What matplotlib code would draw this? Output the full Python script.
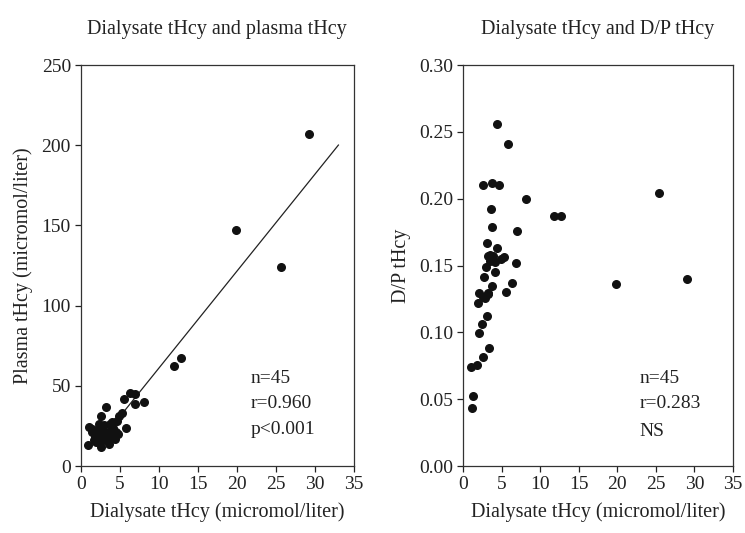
import numpy as np
import matplotlib
matplotlib.use("Agg")
import matplotlib.pyplot as plt

plt.rcParams['font.family'] = ['Liberation Serif', 'DejaVu Serif']

# Left panel: dialysate tHcy vs plasma tHcy
dial_left = [29.2, 19.9, 25.6, 12.8, 11.9, 6.3, 6.95, 5.6, 8.1, 7.0,
             3.3, 5.3, 4.9, 2.6, 4.05, 3.7, 3.0, 1.1, 1.4, 5.8,
             2.05, 2.7, 4.5, 3.3, 4.0, 2.5, 3.1, 4.4, 2.0, 1.0,
             2.55, 3.5, 2.9, 1.8, 3.8, 4.2, 2.2, 3.6, 1.5, 4.6,
             2.8, 3.9, 2.3, 1.7, 4.8]
plasma = [207, 147, 124, 67.3, 62.5, 45.5, 45, 42, 40, 38.7,
          36.6, 33.2, 31.2, 31.2, 27.6, 26.2, 25.6, 24.5, 23, 23.5,
          22.4, 21.8, 21.4, 20.4, 19.3, 18.7, 17.9, 16.6, 15.2, 12.9,
          11.7, 17, 20, 18, 22, 24, 19, 14, 21, 28,
          16, 18.5, 26, 16, 20]

# regression line
fit_x = [4.5, 33.0]
fit_slope = 6.05
fit_intercept = 0.45

# Right panel: dialysate tHcy vs D/P ratio
dial_right = [4.45, 5.87, 2.63, 3.8, 4.67, 8.13, 3.63, 11.84, 12.7, 3.72,
              6.96, 3.07, 4.37, 3.28, 3.93, 5.32, 3.5, 4.93, 6.91, 2.94,
              2.72, 4.15, 3.8, 6.3, 2.11, 3.2, 5.6, 2.63, 3.28, 1.9,
              3.07, 2.42, 2.07, 3.33, 2.63, 1.04, 1.85, 1.26, 1.17, 19.8,
              25.4, 29.0, 3.5, 4.1, 2.8]
dp_ratio = [0.256, 0.241, 0.210, 0.2115, 0.210, 0.200, 0.192, 0.187, 0.187, 0.179,
            0.176, 0.167, 0.163, 0.157, 0.157, 0.1566, 0.1536, 0.1546, 0.152, 0.1486,
            0.1417, 0.1454, 0.1347, 0.1372, 0.1297, 0.1297, 0.1304, 0.1267, 0.129, 0.1222,
            0.1124, 0.1065, 0.0998, 0.0885, 0.0815, 0.0743, 0.0753, 0.0526, 0.0436, 0.136,
            0.204, 0.140, 0.158, 0.1525, 0.126]

x_ticks = [0, 5, 10, 15, 20, 25, 30, 35]
left_yticks = [0, 50, 100, 150, 200, 250]
right_yticks = [0.00, 0.05, 0.10, 0.15, 0.20, 0.25, 0.30]

fig = plt.figure(figsize=(7.45, 5.33), dpi=100)
ax1 = fig.add_axes([0.1083, 0.1257, 0.3669, 0.7523])
ax2 = fig.add_axes([0.6215, 0.1257, 0.3624, 0.7523])

fs = 14
lfs = 14.5

def style(ax):
    for s in ax.spines.values():
        s.set_linewidth(0.9)
        s.set_color('#333333')
    ax.tick_params(direction='out', length=4, width=0.9, labelsize=fs, pad=3, colors='#222222')
    ax.set_xlim(0, 35)
    ax.set_xticks(x_ticks)
    ax.set_xlabel('Dialysate tHcy (micromol/liter)', fontsize=lfs, labelpad=7, color='#222222')

# left
ax1.scatter(dial_left, plasma, s=30, color='#111111', zorder=3, clip_on=False)
fx = np.array(fit_x)
ax1.plot(fx, fit_intercept + fit_slope * fx, color='#222222', linewidth=0.9)
ax1.set_ylim(0, 250)
ax1.set_yticks(left_yticks)
style(ax1)
ax1.set_ylabel('Plasma tHcy (micromol/liter)', fontsize=lfs, labelpad=6, color='#222222')
ax1.set_title('Dialysate tHcy and plasma tHcy', fontsize=lfs, pad=22, color='#222222')
for txt, yy in zip(['n=45', 'r=0.960', 'p<0.001'], [0.219, 0.155, 0.092]):
    ax1.text(0.62, yy, txt, transform=ax1.transAxes, fontsize=fs, va='center', color='#222222')

# right
ax2.scatter(dial_right, dp_ratio, s=30, color='#111111', zorder=3, clip_on=False)
ax2.set_ylim(0, 0.30)
ax2.set_yticks(right_yticks)
ax2.set_yticklabels([f'{v:.2f}' for v in right_yticks])
style(ax2)
ax2.set_ylabel('D/P tHcy', fontsize=lfs, labelpad=6, color='#222222')
ax2.set_title('Dialysate tHcy and D/P tHcy', fontsize=lfs, pad=22, color='#222222')
for txt, yy in zip(['n=45', 'r=0.283', 'NS'], [0.219, 0.155, 0.087]):
    ax2.text(0.655, yy, txt, transform=ax2.transAxes, fontsize=fs, va='center', color='#222222')

fig.savefig('out.png', dpi=100)
